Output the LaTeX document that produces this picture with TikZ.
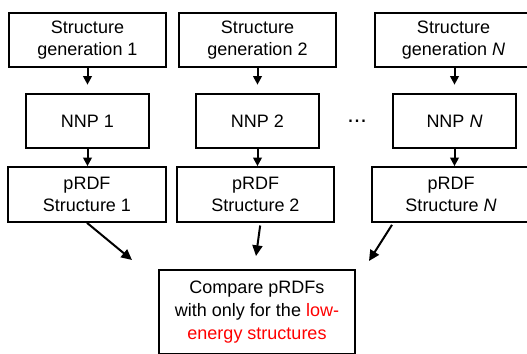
\documentclass[tikz,border=0pt]{standalone}
\usepackage{fontspec}
\setmainfont{Liberation Sans}
\usetikzlibrary{arrows.meta}

\begin{document}
\begin{tikzpicture}[
        x=0.75pt, y=-0.75pt,
        font=\fontsize{13.5}{17}\selectfont,
        box/.style={draw, line width=1.5pt, rectangle, align=center, inner sep=0pt, minimum width=118pt, minimum height=41pt},
        nnpbox/.style={box, minimum width=92.5pt},
        arrow/.style={-{Triangle[length=6.5pt, width=6.5pt]}, line width=1.5pt},
        bigarrow/.style={-{Triangle[length=8pt, width=7.5pt]}, line width=1.5pt}
    ]
        \useasboundingbox (0,0) rectangle (527,353);
        \clip (0,0) rectangle (527,353);

        % Structure generation
        \node[box] (gen1) at (87.5,40) {Structure\\generation 1};
        \node[box] (gen2) at (257.5,40) {Structure\\generation 2};
        \node[box] (genN) at (453.5,40) {Structure\\generation \textit{N}};

        % NNPs
        \node[nnpbox] (nnp1) at (87.5,121) {NNP 1};
        \node[nnpbox] (nnp2) at (257.5,121) {NNP 2};
        \node[nnpbox] (nnpN) at (454.5,121) {NNP \textit{N}};
        \node[anchor=base, font=\fontsize{17.5}{20}\selectfont] (dots) at (357,122) {...};

        % pRDFs
        \node[box] (rdf1) at (87,194.5) {pRDF\\Structure 1};
        \node[box] (rdf2) at (255.5,194.5) {pRDF\\Structure 2};
        \node[box] (rdfN) at (451,194.5) {pRDF\\Structure \textit{N}};

        % Comparison
        \node[box, minimum width=146.5pt, minimum height=63.5pt] (compare) at (257,312)
            {Compare pRDFs\\with only for the \textcolor{red}{low-}\\\textcolor{red}{energy structures}};

        % Connections
        \draw[arrow, shorten >=6pt] (gen1) -- (nnp1);
        \draw[arrow, shorten >=6pt] (gen2) -- (nnp2);
        \draw[arrow, shorten >=6pt] (nnpN.north |- genN.south) -- (nnpN.north);
        \draw[arrow] (nnp1.south) -- (nnp1.south |- rdf1.north);
        \draw[arrow] (nnp2.south) -- (nnp2.south |- rdf2.north);
        \draw[arrow] (nnpN.south) -- (nnpN.south |- rdfN.north);

        % Into the comparison
        \coordinate (in1) at (132,260);
        \coordinate (in2) at (256,256);
        \coordinate (inN) at (369,261);
        \draw[bigarrow] (rdf1.south) -- (in1);
        \draw[bigarrow] ([xshift=3.5pt, yshift=-2pt]rdf2.south) -- (in2);
        \draw[bigarrow] ([xshift=15.5pt, yshift=-1.5pt]rdfN.south west) -- (inN);

    \end{tikzpicture}
\end{document}
